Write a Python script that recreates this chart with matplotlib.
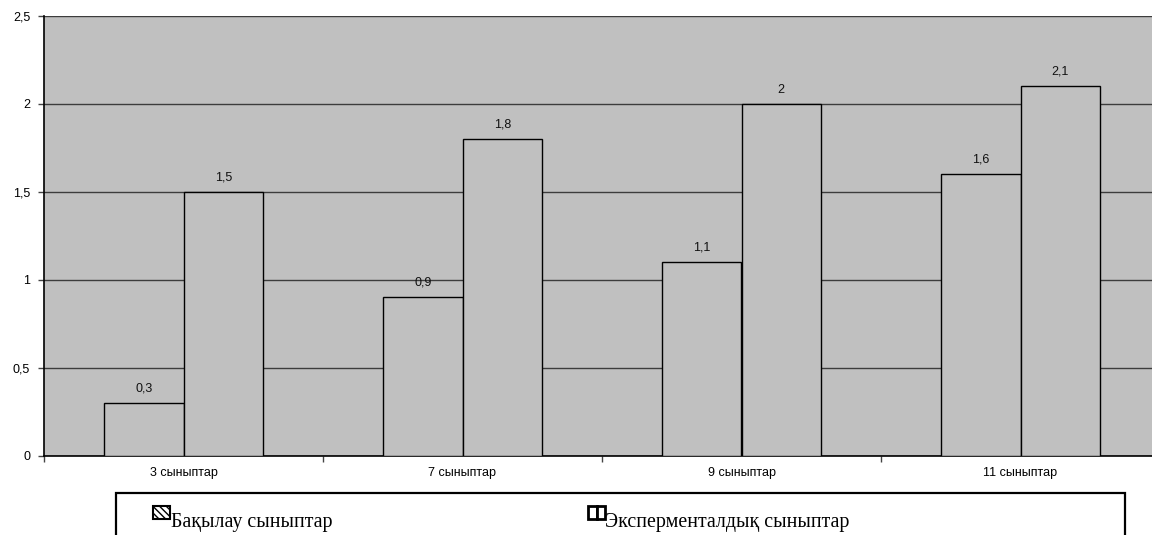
import matplotlib
matplotlib.use("Agg")
import matplotlib.pyplot as plt
from matplotlib.patches import Rectangle
import numpy as np

categories = ["3 сыныптар", "7 сыныптар", "9 сыныптар", "11 сыныптар"]
control = [0.3, 0.9, 1.1, 1.6]
experimental = [1.5, 1.8, 2.0, 2.1]
series_names = ["Бақылау сыныптар", "Эксперменталдық сыныптар"]
y_ticks = [0, 0.5, 1, 1.5, 2, 2.5]


def comma(v):
    return f"{v:g}".replace(".", ",")


W, H = 1152, 535
fig = plt.figure(figsize=(W / 100, H / 100), dpi=100)
fig.patch.set_facecolor("white")

ax = fig.add_axes([44 / W, 79.5 / H, 1116 / W, 439.5 / H])
ax.set_facecolor("#c0c0c0")

x = np.arange(len(categories))
bw = 0.285
sans = "Liberation Sans"
small = 9.0

b1 = ax.bar(x - bw / 2, control, bw, color="#c0c0c0", edgecolor="black",
            linewidth=1.0, zorder=3)
b2 = ax.bar(x + bw / 2, experimental, bw, color="#c0c0c0", edgecolor="black",
            linewidth=1.0, zorder=3)

for bars, vals in ((b1, control), (b2, experimental)):
    for rect, v in zip(bars, vals):
        ax.annotate(comma(v), (rect.get_x() + rect.get_width() / 2, v),
                    xytext=(0, 6), textcoords="offset points",
                    ha="center", va="bottom", fontsize=small,
                    family=sans, color="#111111", zorder=4)

ax.set_xlim(-0.5, len(categories) - 0.5)
ax.set_ylim(0, 2.5)
ax.set_yticks(y_ticks)
ax.set_yticklabels([comma(v) for v in y_ticks], family=sans, fontsize=small)
ax.yaxis.grid(True, color="#3c3c3c", linewidth=1.0, zorder=1)
ax.set_axisbelow(True)

# category labels at centres, tick marks on the boundaries between groups
ax.set_xticks(x)
ax.set_xticklabels(categories, family=sans, fontsize=small)
ax.tick_params(axis="x", length=0, pad=8)
ax.set_xticks(np.arange(len(categories) + 1) - 0.5, minor=True)
ax.tick_params(axis="x", which="minor", length=4, width=1, color="#444444",
               direction="out")
ax.tick_params(axis="y", length=4, width=1, color="#444444", direction="out",
               pad=6)

for s in ("top", "right"):
    ax.spines[s].set_visible(False)
ax.spines["left"].set_color("black")
ax.spines["bottom"].set_color("black")
ax.spines["left"].set_linewidth(1.2)
ax.spines["bottom"].set_linewidth(1.2)

# legend frame
serif = "Liberation Serif"
fig.patches.append(Rectangle((116 / W, -0.02), (1125 - 116) / W,
                             (535 - 493) / H + 0.02, transform=fig.transFigure,
                             facecolor="white", edgecolor="black",
                             linewidth=1.6))

# legend keys
icon_w, icon_h = 17 / W, 13 / H
icon_y = (535 - 519) / H
k1 = Rectangle((153 / W, icon_y), icon_w, icon_h, transform=fig.transFigure,
               facecolor="white", edgecolor="black", hatch="\\\\\\\\\\",
               linewidth=1.5)
fig.patches.append(k1)
k2a = Rectangle((588 / W, icon_y), icon_w / 2, icon_h, transform=fig.transFigure,
                facecolor="white", edgecolor="black", linewidth=2.0)
k2b = Rectangle((588 / W + icon_w / 2, icon_y), icon_w / 2, icon_h,
                transform=fig.transFigure, facecolor="white",
                edgecolor="black", linewidth=2.0)
fig.patches.extend([k2a, k2b])

fig.text(171 / W, (535 - 527) / H, series_names[0], family=serif,
         fontsize=14.3, ha="left", va="baseline")
fig.text(605 / W, (535 - 527) / H, series_names[1], family=serif,
         fontsize=14.3, ha="left", va="baseline")

fig.savefig("out.png", dpi=100, facecolor="white")
